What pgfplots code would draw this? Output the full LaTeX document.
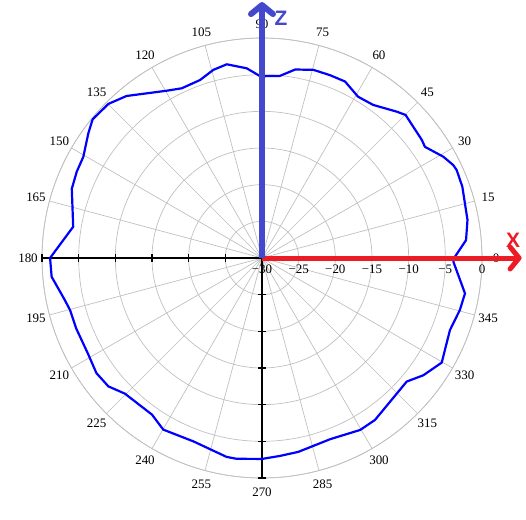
\documentclass[border=0pt]{standalone}
\usepackage{fontspec}
\setmainfont{Liberation Serif}
\newfontfamily\lsans{Liberation Sans}
\usepackage{pgfplots}
\pgfplotsset{compat=1.18}
\usepackage{pgfplotstable}
\usepgfplotslibrary{polar}
\usetikzlibrary{arrows.meta}
\definecolor{curveblue}{RGB}{0,0,255}
\definecolor{zblue}{RGB}{68,72,204}
\definecolor{xred}{RGB}{237,28,36}
\definecolor{gridgray}{RGB}{192,192,192}

\pgfplotstableread{
ang db
0 -3.8
5 -2.07
10.5 -1.5
19.6 -1.0
24.3 -0.87
25.9 -1.0
29.2 -1.68
34.3 -3.1
36.5 -2.9
44.9 -2.36
47.4 -2.88
54 -4.2
59.2 -4.4
64.8 -3.4
69.6 -3.4
74.7 -3.4
80 -3.9
84.4 -5.05
89 -5.2
90.6 -5.2
94.6 -4.05
100.3 -3.15
104.5 -3.5
109.2 -4.3
115.3 -4.4
119.7 -3.74
129.9 -1.2
134.9 -0.33
140.7 -0.15
144.3 -0.84
150.5 -2.0
155 -2.13
160 -2.4
170.6 -3.9
180 -1.1
185.1 -1.2
192 -2.5
195.2 -2.88
200.7 -2.9
209.2 -2.9
214.8 -2.5
219.9 -2.7
224.7 -3.7
234.9 -3.9
240.1 -3.0
249.5 -3.3
259.9 -2.45
262.8 -2.4
270 -2.6
275.2 -2.9
280.6 -3.1
290.6 -3.6
299.7 -3.0
304.9 -3.07
319.5 -4.05
324 -2.8
329.8 -1.64
339 -2.55
345.3 -2.1
350.1 -1.9
358.9 -3.9
360 -3.8
}\gaindata

\tikzset{axtick/.style={black, line width=1.2bp}}

\begin{document}
\begin{tikzpicture}
\begin{polaraxis}[
  scale only axis, width=440bp, height=440bp,
  xmin=0, xmax=360, ymin=0, ymax=30,
  clip=false,
  xtick={0,15,...,345},
  ytick={0,5,10,15,20,25,30},
  yticklabels={−30,−25,−20,−15,−10,−5,0},
  grid=major,
  major grid style={draw=gridgray, line width=0.7bp},
  axis line style={draw=gridgray, line width=0.7bp},
  major tick length=0pt,
  /pgf/number format/assume math mode=true,
  tick label style={font=\fontsize{13}{15}\selectfont},
  xticklabel style={anchor=center, shift={(\tick:14bp)}},
  yticklabel style={anchor=north, yshift=-3bp},
]
\coordinate (c) at (axis cs:0,0);
\coordinate (h5) at (axis cs:180,5);
\coordinate (h10) at (axis cs:180,10);
\coordinate (h15) at (axis cs:180,15);
\coordinate (h20) at (axis cs:180,20);
\coordinate (h25) at (axis cs:180,25);
\coordinate (h30) at (axis cs:180,30);
\coordinate (v5) at (axis cs:270,5);
\coordinate (v10) at (axis cs:270,10);
\coordinate (v15) at (axis cs:270,15);
\coordinate (v20) at (axis cs:270,20);
\coordinate (v25) at (axis cs:270,25);
\coordinate (v30) at (axis cs:270,30);
\draw[axtick] (h30) -- (c) -- (v30);
\addplot[curveblue, line width=2.2bp, line join=round] table[x=ang, y expr=\thisrow{db}+30] {\gaindata};
\draw[xred, line width=5bp, -{Straight Barb[length=9bp,width=22bp,round]}] (axis cs:0,0) -- (axis cs:0,35.4);
\draw[zblue, line width=6bp, -{Straight Barb[length=9bp,width=22bp,round]}] (axis cs:0,0) -- (axis cs:90,34.9);
\end{polaraxis}
\foreach \n in {h5,h10,h15,h20,h25,h30} {
  \draw[axtick] ([yshift=-3.8bp]\n) -- ([yshift=3.8bp]\n);
}
\foreach \n in {v5,v10,v15,v20,v25,v30} {
  \draw[axtick] ([xshift=-3.8bp]\n) -- ([xshift=3.8bp]\n);
}
\node[text=xred, font=\lsans\bfseries\fontsize{21}{24}\selectfont] at ([shift={(251bp,18bp)}]c) {X};
\node[text=zblue, font=\lsans\bfseries\fontsize{21}{24}\selectfont] at ([shift={(19bp,240bp)}]c) {Z};
\pgfresetboundingbox
\path[use as bounding box] ([shift={(-262bp,-262bp)}]c) rectangle ([shift={(264bp,258bp)}]c);
\end{tikzpicture}
\end{document}
